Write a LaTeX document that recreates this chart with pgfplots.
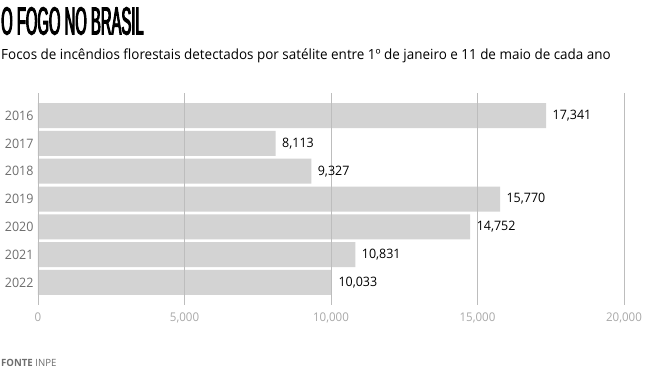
\documentclass[border=0pt]{standalone}
\usepackage{fontspec}
\usepackage{graphicx}
\usepackage{pgfplots}
\pgfplotsset{compat=1.18}
\setmainfont{Open Sans}[FakeStretch=0.96]
\newfontfamily\titlefont{Liberation Sans}[FakeStretch=0.38,FakeBold=2.5]
\definecolor{barfill}{HTML}{D3D3D3}
\definecolor{gridc}{HTML}{BDBDBD}
\definecolor{yearc}{HTML}{6E6E6E}
\definecolor{tickc}{HTML}{A8A8A8}
\begin{document}
\begin{tikzpicture}[x=1pt,y=1pt]
\path (0,0) rectangle (670,370);
\node[anchor=north west,inner sep=0pt] at (1,363) {\titlefont\fontsize{39}{39}\selectfont O FOGO NO BRASIL};
\node[anchor=base west,inner sep=0pt] at (1,310) {\fontsize{14}{16}\selectfont Focos de incêndios florestais detectados por satélite entre 1º de janeiro e 11 de maio de cada ano};
\node[anchor=base west,inner sep=0pt,text=yearc] at (1,4) {\fontsize{10}{12}\selectfont\textbf{FONTE} INPE};
\begin{axis}[
  at={(38pt,65pt)}, anchor=south west,
  scale only axis, width=586pt, height=212pt,
  xbar, bar width=25pt,
  xmin=0, xmax=20000,
  ymin=-0.81, ymax=6.81, y dir=reverse,
  ytick={0,...,6},
  yticklabels={2016,2017,2018,2019,2020,2021,2022},
  xtick={0,5000,10000,15000,20000},
  scaled x ticks=false,
  axis line style={draw=none},
  major tick length=0pt,
  xmajorgrids, grid style={gridc, line width=0.6pt},
  axis on top,
  /pgf/number format/assume math mode=true,
  xticklabel={\pgfmathprintnumber[fixed,precision=0,1000 sep={,},assume math mode=true]{\tick}},
  x tick label style={text=tickc, font=\fontsize{12}{14}\selectfont, yshift=-4pt},
  y tick label style={text=yearc, font=\fontsize{13}{15}\selectfont, xshift=-1pt},
  nodes near coords,
  nodes near coords style={anchor=west, text=black, font=\fontsize{13}{15}\selectfont, xshift=3pt,
    /pgf/number format/.cd, fixed, precision=0, 1000 sep={,}, assume math mode=true},
  clip=false,
]
\addplot[fill=barfill, draw=none] coordinates {
  (17341,0) (8113,1) (9327,2) (15770,3) (14752,4) (10831,5) (10033,6)
};
\end{axis}
\end{tikzpicture}
\end{document}
